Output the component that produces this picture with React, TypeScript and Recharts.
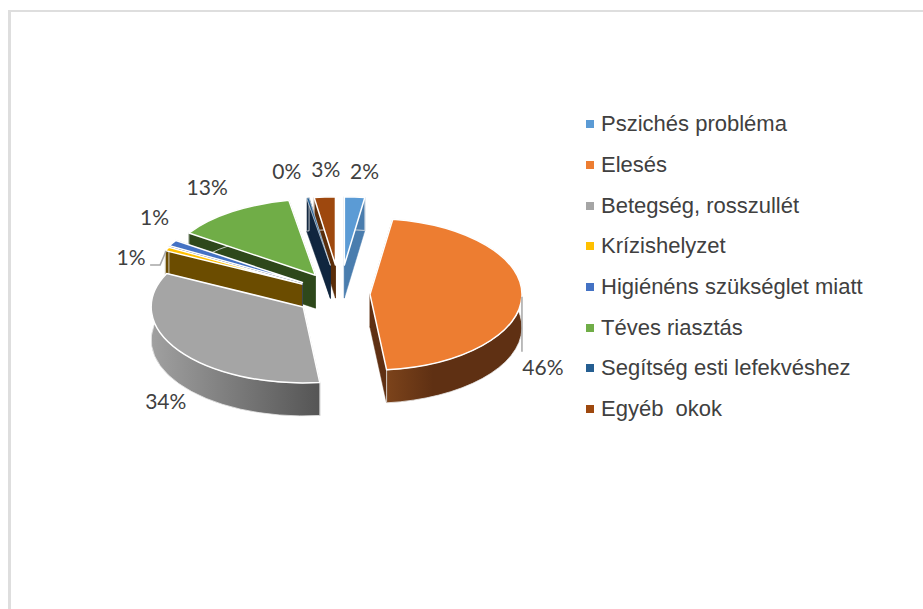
import React from "react";
import { PieChart, Pie, Legend } from "recharts";

const categories = ["Pszichés probléma", "Elesés", "Betegség, rosszullét", "Krízishelyzet", "Higiénéns szükséglet miatt", "Téves riasztás", "Segítség esti lefekvéshez", "Egyéb  okok"];
const shares = [2.4, 46, 34.1, 0.8, 1.3, 12.9, 0.3, 2.5];

const topColors = ["#5B9BD5", "#ED7D31", "#A5A5A5", "#FFC000", "#4472C4", "#70AD47", "#255E91", "#9E480E"];
const wallColors = ["#4a7dae", "#5f3013", "#808080", "#6b4c00", "#2c4a80", "#2e481b", "#10263f", "#5a2d0a"];
const explode = [58, 30, 45, 43, 44, 45, 58, 58];
const sizeScale = [0.9, 1, 1, 1, 1, 1, 0.9, 0.9];
const labelNudge = [[10, -26], [21, 71], [-13, 50], [-36, 8], [-18, -27], [-25, -25], [-21, -27], [1, -28]];
const leaders: Record<number, number[][]> = { 1: [[0, 1], [0, 56]], 3: [[-1, 2], [-7, 16], [-17, 16]] };
const paintOrder = [7, 6, 0, 5, 4, 3, 2, 1];

const data = categories.map((name, i) => ({ name, value: shares[i], fill: topColors[i] }));

const SQUASH = 0.5;
const DEPTH = 33;
const RAD = Math.PI / 180;

function Slice(props: any, only: number) {
  const idx = categories.indexOf(props.name);
  if (idx !== only) return <g />;
  const { cx, cy, outerRadius, startAngle, endAngle } = props;
  const t1 = 90 - startAngle;
  const t2 = 90 - endAngle;
  const mid = ((t1 + t2) / 2) * RAD;
  const e = explode[idx];
  const rx = outerRadius * sizeScale[idx];
  const ry = rx * SQUASH;
  const ax = cx + e * Math.sin(mid);
  const ay = cy - e * SQUASH * Math.cos(mid);
  const pt = (t: number, d = 0): [number, number] => [ax + rx * Math.sin(t * RAD), ay - ry * Math.cos(t * RAD) + d];
  const [x1, y1] = pt(t1);
  const [x2, y2] = pt(t2);
  const large = t2 - t1 > 180 ? 1 : 0;
  const top = `M${ax},${ay}L${x1},${y1}A${rx},${ry} 0 ${large} 1 ${x2},${y2}Z`;
  const arcWall = `M${x1},${y1}A${rx},${ry} 0 ${large} 1 ${x2},${y2}L${x2},${y2 + DEPTH}A${rx},${ry} 0 ${large} 0 ${x1},${y1 + DEPTH}Z`;
  const face = (x: number, y: number) => `M${ax},${ay}L${x},${y}L${x},${y + DEPTH}L${ax},${ay + DEPTH}Z`;
  const gradId = `wall-${idx}`;
  const wallFill = idx === 2 || idx === 1 ? `url(#${gradId})` : wallColors[idx];
  return (
    <g>
      {idx === 2 && (
        <defs>
          <linearGradient id={gradId} gradientUnits="userSpaceOnUse" x1={152} x2={319} y1={0} y2={0}>
            <stop offset="0" stopColor="#a0a0a0" />
            <stop offset="1" stopColor="#555555" />
          </linearGradient>
        </defs>
      )}
      {idx === 1 && (
        <defs>
          <linearGradient id={gradId} gradientUnits="userSpaceOnUse" x1={385} x2={522} y1={0} y2={0}>
            <stop offset="0" stopColor="#7d441b" />
            <stop offset="0.35" stopColor="#5f3013" />
            <stop offset="1" stopColor="#5f3013" />
          </linearGradient>
        </defs>
      )}
      <path d={face(x1, y1)} fill={wallColors[idx]} stroke={wallColors[idx]} strokeWidth={0.5} />
      <path d={face(x2, y2)} fill={wallColors[idx]} stroke={wallColors[idx]} strokeWidth={0.5} />
      <path d={arcWall} fill={wallFill} stroke="#e8e8e8" strokeWidth={0.8} />
      <path d={top} fill={topColors[idx]} stroke="#ffffff" strokeWidth={idx === 6 ? 0.6 : 1.5} strokeLinejoin="round" />
    </g>
  );
}

function renderLabel(props: any) {
  const idx = categories.indexOf(props.name);
  const { cx, cy, outerRadius, midAngle, value } = props;
  const t = (90 - midAngle) * RAD;
  const reach = explode[idx] + outerRadius * sizeScale[idx];
  const bx = cx + reach * Math.sin(t);
  const by = cy - reach * SQUASH * Math.cos(t);
  const [nx, ny] = labelNudge[idx];
  const leader = leaders[idx];
  return (
    <g key={idx}>
      {leader && (
        <polyline
          points={leader.map(([a, b]) => `${bx + a},${by + b}`).join(" ")}
          fill="none"
          stroke="#a6a6a6"
          strokeWidth={1.5}
        />
      )}
      <text
        x={bx + nx}
        y={by + ny}
        textAnchor="middle"
        dominantBaseline="central"
        fill="#404040"
        style={{ fontFamily: "Lato, Carlito, sans-serif", fontSize: 21 }}
      >
        {`${Math.round(value)}%`}
      </text>
    </g>
  );
}

function LegendBox(props: any) {
  const items = categories.map((name) => (props.payload || []).find((p: any) => p.value === name)).filter(Boolean);
  return (
    <div style={{ fontFamily: "'Liberation Sans', Arial, sans-serif", fontSize: 22, color: "#404040" }}>
      {items.map((entry: any, i: number) => (
        <div key={entry.value} style={{ display: "flex", alignItems: "center", height: 40.7, whiteSpace: "pre" }}>
          <span style={{ width: 8, height: 8, background: topColors[i], marginRight: 7, flex: "none" }} />
          <span>{entry.value}</span>
        </div>
      ))}
    </div>
  );
}

export default function App() {
  return (
    <div style={{ position: "absolute", left: 0, top: 0, width: 923, height: 609, overflow: "hidden", background: "#ffffff" }}>
      <div style={{ position: "absolute", left: 8, top: 10, right: 0, bottom: 0, borderLeft: "3px solid #dedede", borderTop: "2px solid #dedede" }} />
      <div style={{ position: "absolute", left: 0, top: 0 }}>
        <PieChart width={923} height={609} margin={{ top: 0, right: 0, bottom: 0, left: 0 }}>
          {paintOrder.map((only, layer) => (
            <Pie
              key={only}
              data={data}
              dataKey="value"
              nameKey="name"
              cx={340}
              cy={294}
              innerRadius={0}
              outerRadius={152}
              startAngle={90}
              endAngle={-270}
              stroke="none"
              isAnimationActive={false}
              legendType={layer === 0 ? "square" : "none"}
              labelLine={false}
              label={layer === paintOrder.length - 1 ? renderLabel : false}
              shape={(p: any) => Slice(p, only)}
            />
          ))}
          <Legend
            layout="vertical"
            content={<LegendBox />}
            wrapperStyle={{ position: "absolute", left: 586, top: 104, width: 320, bottom: "auto", right: "auto" }}
          />
        </PieChart>
      </div>
    </div>
  );
}
